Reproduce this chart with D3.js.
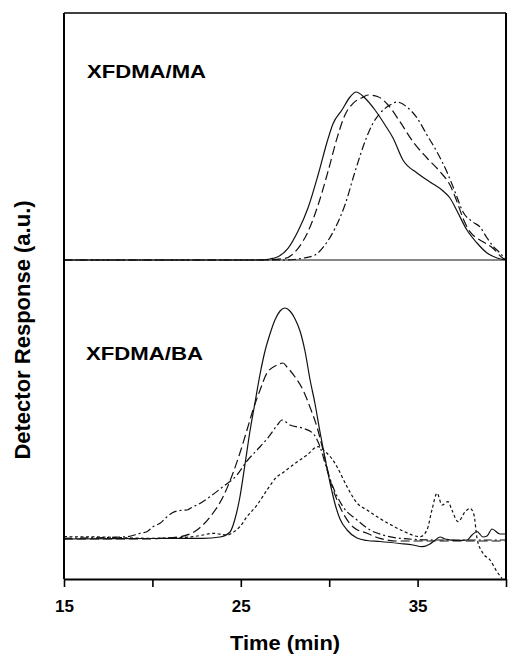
<!DOCTYPE html>
<html>
<head>
<meta charset="utf-8">
<script src="https://cdn.jsdelivr.net/npm/d3@7"></script>
<style>
  html, body { margin: 0; padding: 0; background: #fff; }
  svg { display: block; }
  text { font-family: "Liberation Sans", Arial, Helvetica, sans-serif; font-weight: bold; fill: #000; }
</style>
</head>
<body>
<div id="chart"></div>
<script>
// ---------- data (time in min, response in a.u. above each panel's baseline) ----------
const xTicks = [15, 20, 25, 30, 35, 40];
const xTickLabels = ["15", "", "25", "", "35", ""];
const panelLabels = ["XFDMA/MA", "XFDMA/BA"];
const panelOffsets = [31.9, 4.0];

// XFDMA/MA panel
const maSolidT = [15, 26.0, 26.65, 27.10, 27.67, 28.24, 28.80, 29.37, 29.88, 30.21, 30.72, 31.18, 31.52, 32.02, 32.59, 33.16, 33.61, 34.17, 34.97, 35.70, 36.44, 36.83, 37.23, 37.79, 38.36, 38.93, 39.49, 40];
const maSolidV = [0, 0, 0.1, 0.33, 1.17, 2.9, 5.2, 8.5, 11.8, 13.6, 15.0, 16.3, 16.8, 16.2, 15.0, 13.5, 12.2, 10.0, 8.7, 7.8, 6.9, 6.2, 4.9, 3.0, 1.7, 0.7, 0.2, 0];

const maDashT = [15, 26.09, 27.50, 28.24, 28.80, 29.37, 29.93, 30.44, 30.89, 31.35, 31.86, 32.19, 32.76, 33.33, 34.00, 34.74, 35.53, 36.27, 36.83, 37.23, 37.57, 37.96, 38.36, 38.70, 39.26, 39.83, 40];
const maDashV = [0, 0, 0.17, 1.17, 2.83, 5.5, 8.83, 12.17, 14.5, 15.67, 16.23, 16.5, 16.33, 15.5, 13.83, 11.83, 10.2, 8.83, 7.5, 5.83, 4.17, 2.83, 2.17, 1.83, 1.17, 0.17, 0];

const maDashDotT = [15, 27.5, 28.46, 29.2, 29.76, 30.33, 30.89, 31.46, 32.02, 32.42, 32.87, 33.44, 33.83, 34.4, 34.97, 35.53, 36.1, 36.66, 37.12, 37.57, 38.13, 38.53, 38.93, 39.26, 39.66, 40];
const maDashDotV = [0, 0, 0.17, 0.5, 1.5, 3.17, 5.5, 8.83, 11.83, 13.5, 14.67, 15.5, 15.8, 15.3, 14.2, 12.5, 10.8, 8.8, 6.8, 4.8, 3.8, 3.3, 2.2, 1.4, 0.7, 0];

// XFDMA/BA panel
const baSolidT = [15, 19.86, 22.86, 23.82, 24.39, 24.67, 24.95, 25.24, 25.52, 25.80, 26.09, 26.37, 26.65, 26.93, 27.22, 27.50, 27.78, 28.07, 28.35, 28.63, 28.91, 29.20, 29.48, 29.76, 30.05, 30.33, 30.61, 31.01, 31.57, 32.14, 32.87, 34.00, 34.74, 35.25, 35.70, 36.0, 36.27, 36.55, 37.23, 37.80, 38.08, 38.36, 38.70, 38.93, 39.21, 39.66, 40];
const baSolidV = [0, 0.05, 0.07, 0.2, 0.7, 2.0, 4.2, 7.5, 10.8, 13.6, 16.5, 18.8, 20.5, 21.9, 22.8, 23.1, 22.8, 22.0, 20.8, 18.8, 16.0, 13.5, 10.7, 8.1, 5.6, 3.5, 2.0, 0.9, 0.1, -0.15, -0.25, -0.45, -0.6, -0.77, -0.5, -0.1, 0.2, 0, -0.15, -0.1, 0.4, 0.75, 0.2, 0.3, 1.0, 0.5, 0.5];

const baDashT = [15, 19.86, 20.43, 21.56, 22.52, 23.26, 23.99, 24.56, 24.95, 25.35, 25.69, 26.09, 26.48, 27.05, 27.39, 27.61, 28.07, 28.52, 28.91, 29.31, 29.65, 30.05, 30.44, 30.78, 31.35, 32.14, 32.87, 33.83, 36.0, 40];
const baDashV = [0, 0, 0.07, 0.23, 0.9, 2.2, 4.2, 6.6, 8.6, 10.9, 12.9, 14.9, 16.6, 17.4, 17.6, 17.2, 16.2, 14.9, 13.2, 11.2, 8.9, 5.9, 3.9, 2.6, 1.2, 0.57, 0.07, -0.2, -0.2, -0.2];

const baDashDotT = [15, 18.56, 19.30, 19.69, 20.03, 20.43, 20.83, 21.11, 21.56, 21.96, 22.30, 22.52, 23.26, 23.99, 24.56, 24.78, 25.35, 25.92, 26.48, 27.05, 27.33, 27.78, 28.52, 29.08, 29.48, 29.88, 30.21, 30.78, 31.57, 32.31, 33.04, 34.00, 36.0, 40];
const baDashDotV = [0.07, 0.23, 0.57, 0.73, 1.23, 1.57, 2.23, 2.6, 2.85, 2.9, 3.23, 3.4, 4.23, 5.23, 6.0, 6.4, 7.8, 8.9, 10.0, 11.35, 11.9, 11.4, 11.07, 10.57, 9.23, 6.9, 5.23, 3.23, 1.9, 0.9, 0.4, 0.07, -0.1, -0.1];

const baDotT = [15, 17.04, 19.86, 22.13, 22.86, 23.43, 24.22, 24.67, 24.95, 25.35, 25.92, 26.48, 27.05, 27.33, 27.95, 28.74, 29.37, 29.88, 30.21, 30.44, 31.01, 31.57, 32.14, 32.87, 33.61, 34.17, 35.14, 35.53, 35.81, 36.10, 36.38, 36.72, 36.94, 37.29, 37.68, 37.96, 38.19, 38.36, 38.70, 39.10, 39.49, 39.77];
const baDotV = [0.23, 0.2, 0.07, 0.2, 0.4, 0.57, 0.4, 0.8, 1.23, 2.23, 3.4, 4.9, 6.23, 6.57, 7.4, 8.4, 9.23, 8.57, 7.9, 7.23, 5.23, 3.6, 2.9, 2.05, 1.3, 0.8, 0.23, 0.9, 2.9, 4.57, 3.4, 3.73, 2.9, 1.73, 2.7, 3.07, 2.4, 0.07, -1.43, -2.1, -3.27, -3.93];

// ---------- layout ----------
const W = 508, H = 658;
const pLeft = 64, pRight = 506, pTop = 13, pBottom = 579;

const svg = d3.select("#chart").append("svg").attr("width", W).attr("height", H);

const x = d3.scaleLinear().domain([15, 40]).range([pLeft, pRight]);
const y = d3.scaleLinear().domain([0, 56.6]).range([pBottom, pTop]);

const styles = {
  solid: null,
  dash: "9,4",
  dashdot: "8,3,2,3",
  dot: "3,2.5"
};

const series = [
  { t: maSolidT, v: maSolidV, off: panelOffsets[0], dash: styles.solid },
  { t: maDashT, v: maDashV, off: panelOffsets[0], dash: styles.dash },
  { t: maDashDotT, v: maDashDotV, off: panelOffsets[0], dash: styles.dashdot },
  { t: baSolidT, v: baSolidV, off: panelOffsets[1], dash: styles.solid },
  { t: baDashT, v: baDashV, off: panelOffsets[1], dash: styles.dash },
  { t: baDashDotT, v: baDashDotV, off: panelOffsets[1], dash: styles.dashdot },
  { t: baDotT, v: baDotV, off: panelOffsets[1], dash: styles.dot }
];

const line = d3.line()
  .x(d => x(d[0]))
  .y(d => y(d[1]))
  .curve(d3.curveMonotoneX);

const plot = svg.append("g");
series.forEach(s => {
  const pts = s.t.map((t, i) => [t, s.v[i] + s.off]);
  plot.append("path")
    .attr("d", line(pts))
    .attr("fill", "none")
    .attr("stroke", "#111")
    .attr("stroke-width", 1.2)
    .attr("stroke-dasharray", s.dash);
});

// MA baseline reference line across the panel
svg.append("line")
  .attr("x1", x(15)).attr("x2", x(40))
  .attr("y1", y(panelOffsets[0])).attr("y2", y(panelOffsets[0]))
  .attr("stroke", "#111").attr("stroke-width", 1);

// frame
svg.append("line").attr("x1", pLeft).attr("x2", pRight).attr("y1", pTop).attr("y2", pTop)
  .attr("stroke", "#000").attr("stroke-width", 1.5);
svg.append("line").attr("x1", pLeft).attr("x2", pLeft).attr("y1", pTop).attr("y2", pBottom)
  .attr("stroke", "#000").attr("stroke-width", 2);
svg.append("line").attr("x1", pRight).attr("x2", pRight).attr("y1", pTop).attr("y2", pBottom)
  .attr("stroke", "#000").attr("stroke-width", 2);

// x axis
const xAxis = d3.axisBottom(x)
  .tickValues(xTicks)
  .tickFormat((d, i) => xTickLabels[i])
  .tickSize(8)
  .tickSizeOuter(0)
  .tickPadding(13);
const gx = svg.append("g").attr("transform", `translate(0,${pBottom})`).call(xAxis);
gx.select(".domain").attr("stroke", "#000").attr("stroke-width", 2);
gx.selectAll(".tick line").attr("stroke", "#000").attr("stroke-width", 1.6);
gx.selectAll(".tick text")
  .style("font-family", '"Liberation Sans", Arial, sans-serif')
  .style("font-weight", "bold")
  .style("font-size", "17px")
  .attr("fill", "#000");

// panel labels
svg.append("text").attr("x", 87).attr("y", 78)
  .attr("font-size", 19).attr("textLength", 119).attr("lengthAdjust", "spacingAndGlyphs")
  .text(panelLabels[0]);
svg.append("text").attr("x", 86).attr("y", 360)
  .attr("font-size", 19).attr("textLength", 117).attr("lengthAdjust", "spacingAndGlyphs")
  .text(panelLabels[1]);

// axis titles
svg.append("text")
  .attr("transform", "translate(30,330) rotate(-90)")
  .attr("text-anchor", "middle")
  .attr("font-size", 22)
  .text("Detector Response (a.u.)");

svg.append("text")
  .attr("x", 285).attr("y", 650)
  .attr("text-anchor", "middle")
  .attr("font-size", 20)
  .attr("textLength", 110).attr("lengthAdjust", "spacingAndGlyphs")
  .text("Time (min)");
</script>
</body>
</html>
